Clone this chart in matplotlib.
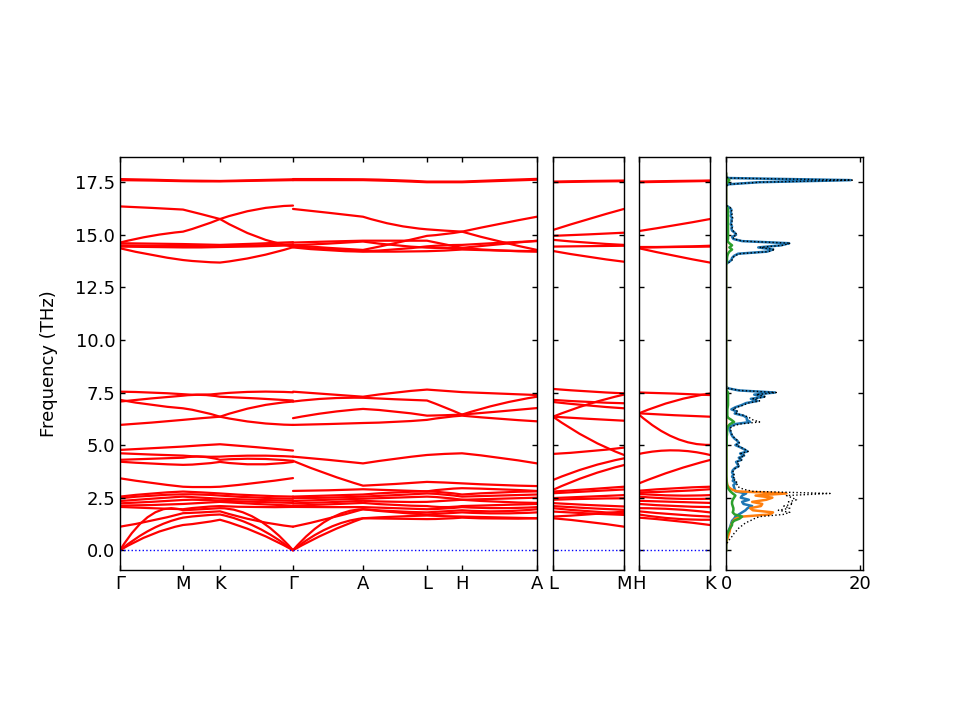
import numpy as np
import matplotlib
matplotlib.use("Agg")
import matplotlib.pyplot as plt
from matplotlib.path import Path
from matplotlib.patches import PathPatch

# ---------------- data ----------------
# k-path segment lengths (arbitrary reciprocal-space distance units)
seg_len_main = [63, 37, 73, 70, 64, 35, 75]      # G-M, M-K, K-G, G-A, A-L, L-H, H-A
seg_len_LM = [71]
seg_len_HK = [71]
labels_main = ["Γ", "M", "K", "Γ", "A", "L", "H", "A"]
labels_LM = ["L", "M"]
labels_HK = ["H", "K"]

# band frequencies (THz) sampled at: G, mid, M, mid, K, mid, G
bands_GMKG = [
    [17.65, 17.62, 17.58, 17.57, 17.56, 17.60, 17.64],
    [17.60, 17.58, 17.55, 17.54, 17.54, 17.57, 17.60],
    [16.35, 16.28, 16.20, 15.98, 15.75, 14.91, 14.44],
    [14.63, 14.95, 15.15, 15.42, 15.75, 16.21, 16.39],
    [14.60, 14.58, 14.56, 14.54, 14.52, 14.58, 14.65],
    [14.50, 14.48, 14.47, 14.46, 14.45, 14.50, 14.55],
    [14.44, 14.42, 14.40, 14.40, 14.42, 14.45, 14.50],
    [14.36, 14.04, 13.80, 13.72, 13.68, 13.96, 14.41],
    [7.54, 7.50, 7.42, 7.39, 7.45, 7.54, 7.51],
    [7.07, 7.22, 7.35, 7.39, 7.30, 7.22, 7.12],
    [7.15, 6.91, 6.75, 6.59, 6.35, 6.07, 5.96],
    [5.96, 6.07, 6.20, 6.28, 6.35, 6.83, 7.07],
    [4.77, 4.85, 4.93, 4.99, 5.04, 4.90, 4.74],
    [4.61, 4.55, 4.50, 4.45, 4.45, 4.50, 4.45],
    [4.30, 4.35, 4.40, 4.45, 4.30, 4.35, 4.25],
    [4.21, 4.12, 4.06, 4.10, 4.20, 4.08, 4.20],
    [3.42, 3.20, 3.02, 3.00, 3.02, 3.20, 3.43],
    [2.55, 2.70, 2.79, 2.75, 2.70, 2.60, 2.55],
    [2.47, 2.60, 2.66, 2.65, 2.60, 2.50, 2.45],
    [2.34, 2.45, 2.55, 2.50, 2.45, 2.40, 2.35],
    [2.23, 2.30, 2.39, 2.40, 2.35, 2.30, 2.25],
    [2.12, 2.15, 2.20, 2.25, 2.30, 2.20, 2.12],
    [2.06, 2.00, 1.95, 2.05, 2.10, 2.05, 2.06],
    [1.12, 1.40, 1.76, 1.80, 1.85, 1.40, 1.12],
    [0.00, 1.70, 1.90, 1.95, 2.00, 1.50, 0.00],
    [0.00, 1.00, 1.55, 1.65, 1.70, 1.10, 0.00],
    [0.00, 0.75, 1.20, 1.30, 1.45, 0.85, 0.00],
]

# sampled at: G, mid, A, mid, L, mid, H, mid, A
bands_GALHA = [
    [17.65, 17.65, 17.64, 17.60, 17.53, 17.53, 17.53, 17.60, 17.66],
    [17.60, 17.60, 17.60, 17.56, 17.50, 17.50, 17.50, 17.56, 17.62],
    [16.23, 16.05, 15.86, 15.47, 15.26, 15.20, 15.15, 14.68, 14.28],
    [14.50, 14.38, 14.28, 14.60, 14.95, 15.03, 15.15, 15.52, 15.86],
    [14.63, 14.68, 14.72, 14.72, 14.72, 14.55, 14.38, 14.25, 14.20],
    [14.50, 14.58, 14.68, 14.50, 14.39, 14.37, 14.38, 14.55, 14.72],
    [14.44, 14.30, 14.22, 14.30, 14.45, 14.50, 14.52, 14.62, 14.70],
    [14.40, 14.26, 14.20, 14.20, 14.22, 14.25, 14.30, 14.25, 14.22],
    [7.54, 7.42, 7.30, 7.50, 7.64, 7.58, 7.52, 7.45, 7.38],
    [7.07, 7.22, 7.25, 7.18, 7.12, 6.80, 6.45, 6.95, 7.30],
    [6.28, 6.55, 6.72, 6.60, 6.40, 6.42, 6.45, 6.60, 6.76],
    [5.96, 6.00, 6.05, 6.10, 6.20, 6.32, 6.40, 6.25, 6.13],
    [4.45, 4.30, 4.13, 4.35, 4.53, 4.58, 4.61, 4.40, 4.13],
    [4.25, 3.61, 3.07, 3.15, 3.25, 3.22, 3.18, 3.10, 3.05],
    [2.82, 2.85, 2.90, 2.85, 2.80, 2.90, 2.95, 2.90, 2.82],
    [2.55, 2.60, 2.65, 2.75, 2.80, 2.75, 2.65, 2.75, 2.80],
    [2.47, 2.50, 2.55, 2.62, 2.70, 2.65, 2.55, 2.60, 2.65],
    [2.34, 2.40, 2.45, 2.50, 2.55, 2.50, 2.40, 2.45, 2.50],
    [2.23, 2.28, 2.35, 2.30, 2.30, 2.35, 2.40, 2.30, 2.25],
    [2.12, 2.18, 2.25, 2.15, 2.10, 2.05, 2.10, 2.15, 2.20],
    [2.06, 2.05, 2.05, 2.00, 1.95, 1.98, 2.05, 2.00, 2.05],
    [1.12, 1.50, 1.95, 1.85, 1.80, 1.85, 1.90, 1.85, 1.95],
    [0.00, 1.45, 1.95, 1.80, 1.70, 1.75, 1.80, 1.75, 1.80],
    [0.00, 1.05, 1.52, 1.60, 1.65, 1.62, 1.60, 1.56, 1.52],
    [0.00, 0.85, 1.52, 1.50, 1.48, 1.50, 1.55, 1.50, 1.52],
]

# sampled at: L, mid, M
bands_LM = [
    [17.53, 17.56, 17.58], [17.50, 17.53, 17.55],
    [15.23, 15.75, 16.23], [14.95, 15.02, 15.10], [14.76, 14.62, 14.52],
    [14.44, 14.46, 14.48], [14.23, 13.95, 13.72],
    [7.67, 7.55, 7.46], [7.15, 7.05, 6.99], [7.05, 6.88, 6.75],
    [6.35, 6.95, 7.40], [6.35, 6.25, 6.16], [6.35, 5.30, 4.53],
    [4.58, 4.70, 4.88], [3.34, 3.95, 4.37], [2.87, 3.55, 4.05],
    [2.79, 2.90, 3.02], [2.71, 2.80, 2.89], [2.48, 2.55, 2.62],
    [2.40, 2.45, 2.47], [2.24, 2.15, 2.08], [2.10, 2.00, 1.92],
    [2.00, 1.85, 1.76], [1.84, 1.75, 1.68], [1.60, 1.70, 1.84],
    [1.52, 1.35, 1.12],
]

# sampled at: H, mid, K
bands_HK = [
    [17.53, 17.56, 17.58], [17.50, 17.53, 17.56],
    [15.18, 15.45, 15.75], [14.42, 14.43, 14.48], [14.39, 14.42, 14.44],
    [14.36, 14.00, 13.68],
    [7.50, 7.45, 7.38], [6.51, 7.10, 7.45], [6.51, 6.42, 6.35],
    [6.45, 5.35, 5.01], [4.58, 4.75, 4.53], [3.18, 3.80, 4.29],
    [2.83, 2.95, 3.02], [2.75, 2.80, 2.90], [2.68, 2.60, 2.62],
    [2.55, 2.45, 2.45], [2.35, 2.30, 2.25], [2.20, 2.10, 2.05],
    [2.00, 1.95, 1.80], [1.85, 1.70, 1.60], [1.70, 1.50, 1.45],
    [1.55, 1.40, 1.20],
]

# phonon DOS on a 0.1 THz grid from 0.0 to 17.9 THz
dos_freq = np.round(np.arange(0.0, 18.0, 0.1), 1)
dos_total = (
    [0, 0, 0, 0.05, 0.3, 0.5, 0.75, 1.0, 1.2, 1.5,
     1.7, 2.1, 2.5, 2.9, 3.6, 4.2, 5.0, 8.5, 9.5, 7.8,
     9.5, 8.6, 10.0, 9.3, 10.5, 9.8, 9.0, 15.5, 4.0, 2.6,
     1.9, 1.6, 1.8, 1.2, 1.4, 1.0]
    + [1.2, 1.0, 1.1, 1.4, 2.0, 1.8, 1.6, 2.4, 2.0, 2.8,
       2.2, 3.3, 2.8, 2.2, 1.5, 2.0, 1.8, 1.4, 1.1, 0.9,
       0.8, 0.7, 0.6, 1.0, 2.0, 5.0, 4.0, 3.5, 2.8, 1.5,
       1.8, 1.0, 1.6, 2.6, 3.3, 5.0, 4.0, 6.0, 4.5, 7.5,
       2.0, 0.3]
    + [0.0] * 58
    + [0.0, 0.5, 0.9, 1.0, 1.3, 2.0, 6.3, 7.3, 5.0, 8.4,
       9.6, 2.5, 1.2, 1.0, 1.6, 1.4, 1.0, 0.9, 1.0, 0.8,
       0.9, 0.9, 1.0, 0.8, 0.9, 0.8, 0.9, 0.6]
    + [0.0] * 10
    + [0.3, 5.0, 18.8, 0.3, 0.0, 0.0]
)
dos_blue = (
    [0, 0, 0, 0.02, 0.07, 0.1, 0.15, 0.2, 0.25, 0.35,
     0.5, 0.6, 0.7, 0.8, 0.9, 1.2, 1.4, 1.9, 2.4, 2.9,
     3.2, 3.9, 2.6, 2.4, 3.4, 2.2, 2.4, 3.0, 1.4, 1.3,
     1.2, 1.1, 1.5, 1.0, 1.2, 0.9]
    + [1.1, 0.9, 1.0, 1.3, 1.9, 1.7, 1.5, 2.3, 1.9, 2.7,
       2.1, 3.2, 2.7, 2.1, 1.4, 1.9, 1.7, 1.3, 1.0, 0.8,
       0.7, 0.6, 0.5, 0.7, 1.4, 3.6, 3.1, 3.1, 2.6, 1.3,
       1.6, 0.8, 1.4, 2.3, 3.0, 4.7, 3.7, 5.7, 4.2, 7.3,
       1.9, 0.3]
    + [0.0] * 58
    + [0.0, 0.4, 0.8, 0.9, 1.2, 1.8, 6.1, 7.0, 4.8, 8.2,
       9.4, 2.4, 1.1, 0.9, 1.5, 1.3, 0.9, 0.8, 0.9, 0.7,
       0.8, 0.8, 0.9, 0.7, 0.8, 0.7, 0.8, 0.5]
    + [0.0] * 10
    + [0.3, 4.9, 18.6, 0.3, 0.0, 0.0]
)
dos_orange = (
    [0, 0, 0, 0.02, 0.08, 0.15, 0.25, 0.35, 0.45, 0.55,
     0.6, 0.7, 0.8, 0.9, 1.1, 1.4, 2.4, 6.5, 7.0, 4.0,
     3.6, 5.2, 5.4, 3.9, 6.0, 6.9, 4.4, 9.0, 1.6, 0.8,
     0.4, 0.2, 0.15, 0.1, 0.05, 0.03]
    + [0.02] * 42
    + [0.0] * 58
    + [0.0] * 28
    + [0.0] * 10
    + [0.0] * 6
)
dos_green = (
    [0, 0, 0, 0, 0.02, 0.05, 0.1, 0.15, 0.2, 0.35,
     0.5, 0.7, 0.9, 0.9, 1.2, 2.0, 2.4, 1.3, 1.0, 1.1,
     1.1, 1.0, 0.9, 0.9, 1.0, 1.2, 1.4, 1.0, 0.65, 0.4,
     0.25, 0.15, 0.1, 0.08, 0.05, 0.05]
    + [0.05, 0.05, 0.05, 0.05, 0.05, 0.05, 0.05, 0.05, 0.05, 0.05,
       0.05, 0.05, 0.05, 0.05, 0.1, 0.1, 0.1, 0.1, 0.1, 0.15,
       0.15, 0.2, 0.2, 0.3, 0.6, 1.2, 0.8, 0.3, 0.2, 0.2,
       0.2, 0.2, 0.25, 0.3, 0.3, 0.3, 0.3, 0.3, 0.3, 0.3,
       0.1, 0.0]
    + [0.0] * 58
    + [0.0, 0.1, 0.15, 0.15, 0.2, 0.3, 0.5, 0.9, 0.5, 0.9,
       0.5, 0.2, 0.3, 0.3, 0.3, 0.3, 0.3, 0.3, 0.3, 0.3,
       0.3, 0.3, 0.3, 0.3, 0.3, 0.3, 0.3, 0.2]
    + [0.0] * 10
    + [0.05, 0.2, 0.5, 0.05, 0.0, 0.0]
)

# ---------------- plotting ----------------
FS = 13
plt.rcParams["font.family"] = ["DejaVu Sans"]
plt.rcParams["axes.linewidth"] = 1.0

fig = plt.figure(figsize=(9.6, 7.2), dpi=100)
W, H = 960.0, 720.0


def add_ax(x0, x1, y0=157, y1=570):
    return fig.add_axes([x0 / W, (H - y1) / H, (x1 - x0) / W, (y1 - y0) / H])


ax1 = add_ax(120, 537)
ax2 = add_ax(553, 624)
ax3 = add_ax(639, 710)
ax4 = add_ax(726, 863)

YLIM = (-0.94, 18.70)
band_color = "#ff0000"
band_lw = 1.6


def node_positions(seg_lengths, start=0.0):
    ends = np.concatenate([[start], start + np.cumsum(seg_lengths)])
    xs = [ends[0]]
    for a, b in zip(ends[:-1], ends[1:]):
        xs += [(a + b) / 2, b]
    return ends, np.array(xs)


def draw_band(ax, xs, ys):
    """Smooth band: one quadratic Bezier per segment passing through the
    sampled start, middle and end frequencies."""
    verts = [(xs[0], ys[0])]
    codes = [Path.MOVETO]
    for i in range(0, len(xs) - 2, 2):
        x0, xm, x1 = xs[i], xs[i + 1], xs[i + 2]
        y0, ym, y1 = ys[i], ys[i + 1], ys[i + 2]
        ctrl = (xm, 2 * ym - 0.5 * (y0 + y1))
        verts += [ctrl, (x1, y1)]
        codes += [Path.CURVE3, Path.CURVE3]
    ax.add_patch(PathPatch(Path(verts, codes), fill=False,
                           edgecolor=band_color, lw=band_lw,
                           capstyle="round", joinstyle="round"))


ends_main, _ = node_positions(seg_len_main)
_, x_A = node_positions(seg_len_main[:3])
_, x_B = node_positions(seg_len_main[3:], start=ends_main[3])
ends_LM, x_LM = node_positions(seg_len_LM)
ends_HK, x_HK = node_positions(seg_len_HK)

for b in bands_GMKG:
    draw_band(ax1, x_A, b)
for b in bands_GALHA:
    draw_band(ax1, x_B, b)
for b in bands_LM:
    draw_band(ax2, x_LM, b)
for b in bands_HK:
    draw_band(ax3, x_HK, b)

for ax, ends, labs in [(ax1, ends_main, labels_main), (ax2, ends_LM, labels_LM),
                       (ax3, ends_HK, labels_HK)]:
    ax.axhline(0, color="blue", ls=":", lw=1.0)
    ax.set_xlim(ends[0], ends[-1])
    ax.set_xticks(ends)
    ax.set_xticklabels(labs, fontsize=FS)

for ax in (ax1, ax2, ax3, ax4):
    ax.set_ylim(*YLIM)
    ax.set_yticks(np.arange(0, 18, 2.5))
    ax.tick_params(direction="in", top=True, right=True, left=True, bottom=True,
                   labelsize=FS, length=3.8, width=1.0)
    if ax is not ax1:
        ax.tick_params(labelleft=False)

ax1.set_ylabel("Frequency (THz)", fontsize=FS, labelpad=12)

# DOS panel
ax4.plot(dos_blue, dos_freq, color="tab:blue", lw=1.8)
ax4.plot(dos_orange, dos_freq, color="tab:orange", lw=1.8)
ax4.plot(dos_green, dos_freq, color="tab:green", lw=1.8)
ax4.plot(dos_total, dos_freq, color="black", ls=":", lw=1.0)
ax4.set_xlim(0, 20.4)
ax4.set_xticks([0, 20])

fig.savefig("out.png", dpi=100)
